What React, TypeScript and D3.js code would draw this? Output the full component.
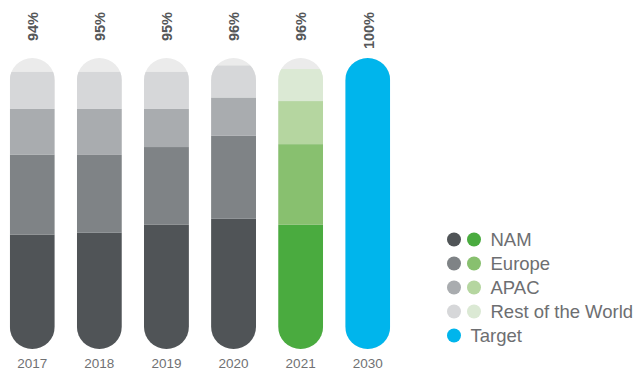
import React from 'react';
import * as d3 from 'd3';

const years = ['2017', '2018', '2019', '2020', '2021', '2030'];
const nam = [39.3, 40.0, 42.7, 44.8, 42.7, 0];
const europe = [27.5, 26.7, 26.7, 28.5, 27.7, 0];
const apac = [15.7, 15.8, 13.1, 13.1, 14.8, 0];
const rest = [12.7, 12.7, 12.7, 11.0, 11.0, 0];
const target = [0, 0, 0, 0, 0, 100];
const totalLabels = ['94%', '95%', '95%', '96%', '96%', '100%'];
const paletteKind = ['gray', 'gray', 'gray', 'gray', 'green', 'blue'];

const seriesKeys = ['nam', 'europe', 'apac', 'rest', 'target'];
const legendNames = ['NAM', 'Europe', 'APAC', 'Rest of the World'];

const grayColors = ['#505457', '#7f8386', '#a9acaf', '#d6d7d9'];
const greenColors = ['#4aab3f', '#88c06f', '#b5d6a0', '#dbe9d4'];
const targetColor = '#00b5ec';
const emptyColor = '#ebebeb';

export default function App() {
  const W = 635, H = 370;
  const x = d3.scaleBand<string>().domain(years).range([9.8, 390.2]).paddingInner(0.33).paddingOuter(0);
  const y = d3.scaleLinear().domain([0, 100]).range([349, 58]);
  const bw = x.bandwidth();

  const table = years.map((yr, i) => ({
    year: yr, nam: nam[i], europe: europe[i], apac: apac[i], rest: rest[i], target: target[i],
  }));
  const stacked = d3.stack<any>().keys(seriesKeys)(table);

  const colorFor = (key: string, i: number) => {
    if (key === 'target') return targetColor;
    const k = seriesKeys.indexOf(key);
    return paletteKind[i] === 'green' ? greenColors[k] : grayColors[k];
  };

  return (
    <svg width={W} height={H} style={{ position: 'absolute', left: 0, top: 0 }}
      fontFamily="'Liberation Sans', Arial, sans-serif">
      <defs>
        {years.map((yr) => (
          <clipPath id={`clip-${yr}`} key={yr}>
            <rect x={x(yr)} y={y(100)} width={bw} height={y(0) - y(100)} rx={bw / 2} ry={bw / 2} />
          </clipPath>
        ))}
      </defs>
      {years.map((yr, i) => (
        <g key={yr} clipPath={`url(#clip-${yr})`}>
          <rect x={x(yr)} y={y(100)} width={bw} height={y(0) - y(100)} fill={emptyColor} />
          {stacked.map((s) => {
            const d = s[i];
            if (d[1] - d[0] <= 0) return null;
            return (
              <rect key={s.key} x={x(yr)} y={y(d[1])} width={bw} height={y(d[0]) - y(d[1])}
                fill={colorFor(s.key, i)} />
            );
          })}
        </g>
      ))}
      {years.map((yr, i) => {
        const cx = (x(yr) as number) + bw / 2;
        return (
          <text key={'l' + yr} transform={`translate(${cx + 5.8},12) rotate(-90)`}
            textAnchor="end" fontSize={14.5} fontWeight="bold" fill="#555759">
            {totalLabels[i]}
          </text>
        );
      })}
      {years.map((yr) => {
        const cx = (x(yr) as number) + bw / 2;
        return (
          <text key={'y' + yr} x={cx} y={367.5} textAnchor="middle" fontSize={13.5} fill="#707173">
            {yr}
          </text>
        );
      })}
      <g>
        {legendNames.map((name, k) => {
          const cy = 239.5 + k * 24;
          return (
            <g key={name}>
              <circle cx={454} cy={cy} r={7} fill={grayColors[k]} />
              <circle cx={474} cy={cy} r={7} fill={greenColors[k]} />
              <text x={490.5} y={cy + 6.4} fontSize={18.5} fill="#6d6e71">{name}</text>
            </g>
          );
        })}
        <circle cx={454} cy={239.5 + 4 * 24} r={7} fill={targetColor} />
        <text x={470.5} y={239.5 + 4 * 24 + 6.4} fontSize={18.5} fill="#6d6e71">Target</text>
      </g>
    </svg>
  );
}
